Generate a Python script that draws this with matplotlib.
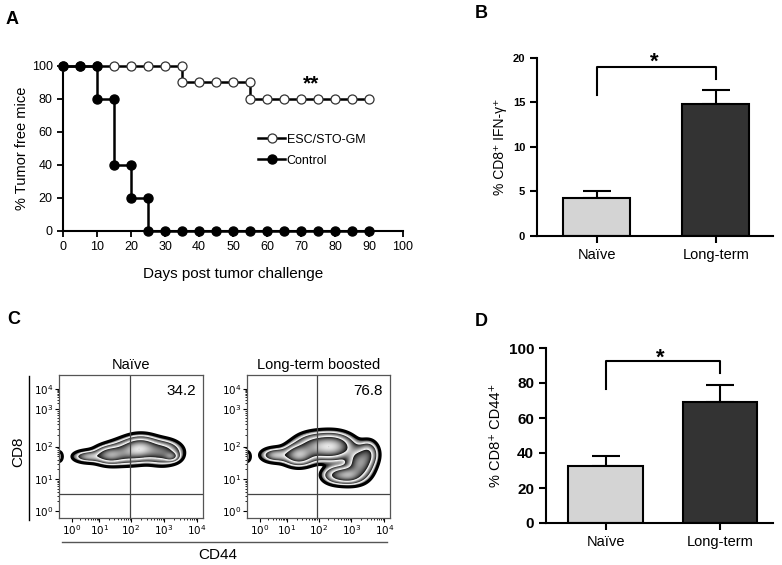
import numpy as np
import matplotlib.pyplot as plt
from matplotlib.lines import Line2D

plt.rcParams['font.family'] = ['Liberation Sans', 'DejaVu Sans']

# --- DATA ---
# A: tumor-free survival (duplicated days = step drops)
esc_days = [0, 5, 10, 15, 20, 25, 30, 35, 35, 40, 45, 50, 55, 55, 60, 65, 70, 75, 80, 85, 90]
esc_pct = [100, 100, 100, 100, 100, 100, 100, 100, 90, 90, 90, 90, 90, 80, 80, 80, 80, 80, 80, 80, 80]
ctrl_days = [0, 5, 10, 10, 15, 15, 20, 20, 25, 25, 30, 35, 40, 45, 50, 55, 60, 65, 70, 75, 80, 85, 90]
ctrl_pct = [100, 100, 100, 80, 80, 40, 40, 20, 20, 0, 0, 0, 0, 0, 0, 0, 0, 0, 0, 0, 0, 0, 0]

# B / D: bar charts
groups = ['Naïve', 'Long-term']
ifn_mean = [4.3, 14.8]
ifn_sem = [0.8, 1.6]
cd44_mean = [32.5, 69.0]
cd44_sem = [6.0, 10.0]
bar_colors = ['#d4d4d4', '#333333']

# C: flow plots, populations as (x, y, sx, sy, weight) in channel units 0-100
naive_pops = [(20, 43, 6, 2.5, 0.35), (35, 44, 6, 3.5, 0.8), (47, 46, 8, 4.5, 0.6),
              (57, 49, 7, 4.5, 1.0), (72, 46, 7, 4.5, 0.7), (78, 43, 3, 2, 0.5),
              (0, 43, 1.3, 2, 0.3)]
boost_pops = [(20, 44, 6, 3, 0.35), (36, 44, 6, 4, 0.9), (47, 50, 8, 5, 0.6),
              (60, 50, 8, 5, 1.0), (79, 38, 5, 6, 0.8), (64, 30, 6, 3.5, 0.6),
              (72, 30, 5, 3.5, 0.6), (85, 45, 4, 5, 0.4), (0, 43, 1.3, 2, 0.3)]
gate_pct = ['34.2', '76.8']
flow_titles = ['Naïve', 'Long-term boosted']
log_labels = ['$10^{0}$', '$10^{1}$', '$10^{2}$', '$10^{3}$', '$10^{4}$']
cd44_tick_pos = [9, 28, 50, 73, 96]
cd8_tick_pos = [5, 27, 50, 76, 90]

W, H = 782, 565
fig = plt.figure(figsize=(W / 100, H / 100), dpi=100)


def box(l, t, r, b):
    return [l / W, 1 - b / H, (r - l) / W, (b - t) / H]


# --- A ---
axA = fig.add_axes(box(63, 66, 403, 231))
axA.plot(esc_days, esc_pct, color='black', lw=1.8, marker='o', ms=6.5,
         mfc='white', mec='#333333', mew=0.9, clip_on=False, label='ESC/STO-GM', zorder=3)
axA.plot(ctrl_days, ctrl_pct, color='black', lw=1.8, marker='o', ms=6.5,
         mfc='black', mec='black', clip_on=False, label='Control', zorder=4)
axA.set_xlim(0, 100)
axA.set_ylim(0, 100)
axA.set_xticks(range(0, 101, 10))
axA.set_yticks(range(0, 101, 20))
for s in ['top', 'right']:
    axA.spines[s].set_visible(False)
for s in ['left', 'bottom']:
    axA.spines[s].set_linewidth(1.5)
axA.tick_params(direction='out', length=4, width=1.3, labelsize=9)
axA.set_xlabel('Days post tumor challenge', fontsize=11, labelpad=10)
axA.set_ylabel('% Tumor free mice', fontsize=10.5, labelpad=2)
axA.text(73, 89, '**', fontsize=15, fontweight='bold', ha='center', va='center')
axA.legend(loc='center left', bbox_to_anchor=(0.54, 0.49), frameon=False, fontsize=9,
           handlelength=2.2, handletextpad=0.1, labelspacing=0.7)


def bar_panel(ax, mean, sem, ymax, step, br, star_y, ylabel, tsize, lsize):
    x = np.arange(len(groups))
    ax.bar(x, mean, width=br[0], color=bar_colors, edgecolor='black', lw=1.5, zorder=2)
    ax.errorbar(x, mean, yerr=[[0] * len(sem), sem], fmt='none', ecolor='black',
                elinewidth=1.5, capsize=10, capthick=1.5, zorder=1)
    ax.plot([0, 0, 1, 1], br[1], color='black', lw=1.5, clip_on=False)
    ax.text(0.48, star_y, '*', fontsize=16, fontweight='bold', ha='center', va='center')
    ax.set_xlim(br[2], br[3])
    ax.set_ylim(0, ymax)
    ax.set_yticks(np.arange(0, ymax + 0.1, step))
    ax.set_xticks(x)
    ax.set_xticklabels(groups, fontsize=10.5)
    for s in ['top', 'right']:
        ax.spines[s].set_visible(False)
    for s in ['left', 'bottom']:
        ax.spines[s].set_linewidth(1.5)
    ax.tick_params(direction='out', length=5, width=1.5)
    ax.tick_params(axis='y', labelsize=tsize)
    for lab in ax.get_yticklabels():
        lab.set_fontweight('bold')
    ax.set_ylabel(ylabel, fontsize=lsize)


# --- B ---
axB = fig.add_axes(box(537, 58, 773, 236))
bar_panel(axB, ifn_mean, ifn_sem, 20, 5, (0.563, [15.8, 19.0, 19.0, 17.6], -0.504, 1.479),
          19.5, '% CD8⁺ IFN-γ⁺', 8, 10)

# --- D ---
axD = fig.add_axes(box(546, 348, 773, 523))
bar_panel(axD, cd44_mean, cd44_sem, 100, 20, (0.655, [76.6, 92.6, 92.6, 85.7], -0.52, 1.463),
          94, '% CD8⁺ CD44⁺', 11, 10.5)


# --- C ---
def zebra(ax, pops):
    g = np.linspace(0, 100, 400)
    X, Y = np.meshgrid(g, g)
    d = np.zeros_like(X)
    for cx, cy, sx, sy, w in pops:
        d += w * np.exp(-0.5 * (((X - cx) / sx) ** 2 + ((Y - cy) / sy) ** 2))
    d /= d.max()
    thr = 0.05
    nb = 3
    t = np.log(np.clip(d, thr, None) / thr) / np.log(1 / thr)
    shade = np.mod(t * nb, 1.0)
    shade = np.ma.masked_where(d < thr, shade)
    ax.imshow(shade, extent=(0, 100, 0, 100), origin='lower', cmap='gray',
              vmin=0, vmax=1.1, interpolation='bilinear', aspect='auto')
    lv = [thr * (1 / thr) ** (k / nb) for k in range(1, nb)]
    ax.contour(X, Y, d, levels=lv, colors='#f0f0f0', linewidths=0.9)
    ax.contour(X, Y, d, levels=[thr], colors='black', linewidths=2.2)


for i, (l, r) in enumerate([(59, 203), (247, 390)]):
    ax = fig.add_axes(box(l, 375, r, 518))
    zebra(ax, [naive_pops, boost_pops][i])
    ax.axvline(49, color='#444444', lw=0.9)
    ax.axhline(17, color='#444444', lw=0.9)
    ax.set_xlim(0, 100)
    ax.set_ylim(0, 100)
    ax.set_xticks(cd44_tick_pos)
    ax.set_xticklabels(log_labels, fontsize=7.5)
    ax.set_yticks(cd8_tick_pos)
    ax.set_yticklabels(log_labels, fontsize=7.5)
    minors = []
    for a, b in zip(cd44_tick_pos[:-1], cd44_tick_pos[1:]):
        minors += [a + np.log10(m) * (b - a) for m in range(2, 10)]
    ax.set_xticks(minors, minor=True)
    minors = []
    for a, b in zip(cd8_tick_pos[:-1], cd8_tick_pos[1:]):
        minors += [a + np.log10(m) * (b - a) for m in range(2, 10)]
    ax.set_yticks(minors, minor=True)
    ax.tick_params(direction='out', length=3, width=0.8, pad=1)
    ax.tick_params(which='minor', direction='out', length=1.5, width=0.6)
    for s in ax.spines.values():
        s.set_color('#555555')
        s.set_linewidth(0.9)
    ax.set_title(flow_titles[i], fontsize=10.5, pad=4)
    ax.text(95, 89, gate_pct[i], fontsize=11, ha='right', va='center')

fig.add_artist(Line2D([29 / W, 29 / W], [1 - 376 / H, 1 - 520 / H], color='black', lw=1))
fig.add_artist(Line2D([62 / W, 387 / W], [1 - 542 / H, 1 - 542 / H], color='#555555', lw=1))
fig.text(18 / W, 1 - 452 / H, 'CD8', fontsize=11, rotation=90, ha='center', va='center')
fig.text(218 / W, 1 - 555 / H, 'CD44', fontsize=11, ha='center', va='center')

# panel letters
for lab, px, py in [('A', 12, 19), ('B', 481, 14), ('C', 14, 319), ('D', 481, 322)]:
    fig.text(px / W, 1 - py / H, lab, fontsize=13, fontweight='bold', ha='center', va='center')

fig.savefig('out.png', dpi=100)
